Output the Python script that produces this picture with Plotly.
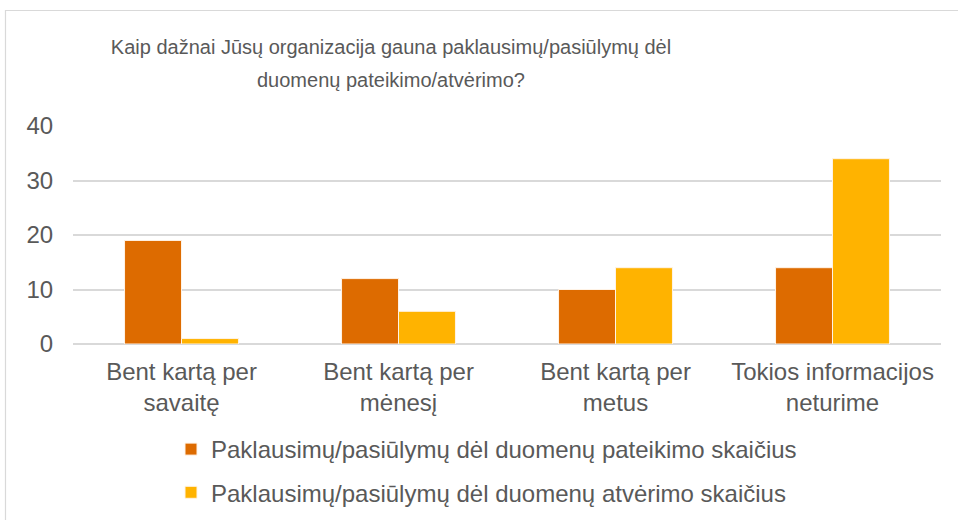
import plotly.graph_objects as go

categories = ["Bent kartą per<br>savaitę", "Bent kartą per<br>mėnesį", "Bent kartą per<br>metus", "Tokios informacijos<br>neturime"]
series_names = ["Paklausimų/pasiūlymų dėl duomenų pateikimo skaičius",
                "Paklausimų/pasiūlymų dėl duomenų atvėrimo skaičius"]
pateikimo = [19, 12, 10, 14]
atverimo = [1, 6, 14, 34]
y_ticks = [0, 10, 20, 30, 40]
title_line1 = "Kaip dažnai Jūsų organizacija gauna paklausimų/pasiūlymų dėl"
title_line2 = "duomenų pateikimo/atvėrimo?"

W, H = 958, 520
L, R, T, B = 73, 17, 126, 176
pw, ph = W - L - R, H - T - B

def px_x(p):
    return (p - L) / pw

def px_y(p):
    return (H - B - p) / ph

fig = go.Figure()
fig.add_trace(go.Bar(x=categories, y=pateikimo, name=series_names[0], legendgroup="a",
                     marker=dict(color="#DD6B00", line=dict(color="#FFF3E6", width=1))))
fig.add_trace(go.Bar(x=categories, y=atverimo, name=series_names[1], legendgroup="b",
                     marker=dict(color="#FFB300", line=dict(color="#FFF3E6", width=1))))

title_font = dict(size=20, color="#595959", family="Liberation Sans, Arial, sans-serif")

fig.update_layout(
    width=W, height=H,
    margin=dict(l=L, r=R, t=T, b=B, autoexpand=False),
    paper_bgcolor="white", plot_bgcolor="white",
    font=dict(family="Liberation Sans, Arial, sans-serif", color="#595959"),
    title=dict(text=title_line1, x=391 / W, xref="container", xanchor="center",
               y=1 - 47 / H, yref="container", yanchor="middle", pad=dict(t=0, b=0),
               font=title_font),
    annotations=[dict(text=title_line2, x=px_x(391), y=px_y(80), xref="paper", yref="paper",
                      xanchor="center", yanchor="middle", showarrow=False, font=title_font)],
    barmode="group", bargap=0.475, bargroupgap=0,
    showlegend=True,
    legend=dict(x=171 / W, y=1 - 427 / H, xref="container", yref="container",
                xanchor="left", yanchor="top",
                orientation="v", font=dict(size=24, color="#595959"),
                itemwidth=30, tracegroupgap=9, bgcolor="rgba(0,0,0,0)"),
    xaxis=dict(showgrid=False, showline=False, ticks="outside", ticklen=6,
               tickcolor="rgba(0,0,0,0)", tickfont=dict(size=24, color="#595959")),
    yaxis=dict(range=[0, 40], tickvals=y_ticks, showgrid=True, gridcolor="#D9D9D9", gridwidth=1.5,
               zeroline=True, zerolinecolor="#D9D9D9", zerolinewidth=1.5,
               showline=False, ticks="outside", ticklen=14, tickcolor="rgba(0,0,0,0)",
               tickfont=dict(size=24, color="#595959")),
    shapes=[dict(type="rect", xref="paper", yref="paper",
                 x0=px_x(5.5), x1=px_x(W + 5), y0=px_y(H + 5), y1=px_y(10.5),
                 line=dict(color="#D9D9D9", width=1.2), fillcolor="rgba(0,0,0,0)", layer="below")],
)

fig.write_html("out.html", config={"displayModeBar": False},
               post_script="document.body.style.margin='0';")
